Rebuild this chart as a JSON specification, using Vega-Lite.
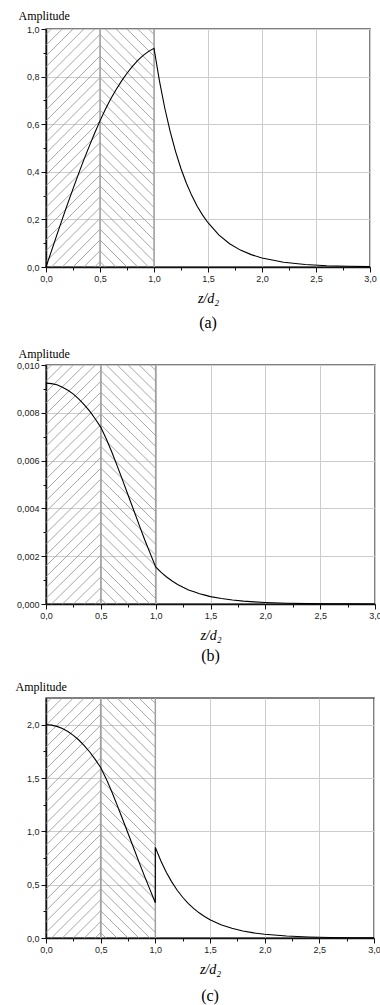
{
  "$schema": "https://vega.github.io/schema/vega-lite/v6.json",
  "padding": {"left": 14, "top": 8, "right": 2, "bottom": 1},
  "spacing": 14,
  "config": {
    "view": {"stroke": "#555555", "strokeWidth": 1.5},
    "axis": {"labelFont": "Liberation Sans", "labelFontSize": 9, "labelColor": "#222222", "domainColor": "#111111", "domainWidth": 1.5, "tickColor": "#111111", "gridColor": "#cccccc", "gridWidth": 1, "titleFont": "Liberation Serif", "titleFontWeight": "normal", "titleColor": "#000000", "labelFlush": false},
    "title": {"font": "Liberation Serif", "fontSize": 16, "fontWeight": "normal", "color": "#000000"}
  },
  "datasets": {
    "hatch": [
      {"z1": 0.45, "v1": 0, "z2": 0.5, "v2": 0.0227},
      {"z1": 0.35, "v1": 0, "z2": 0.5, "v2": 0.0682},
      {"z1": 0.25, "v1": 0, "z2": 0.5, "v2": 0.1136},
      {"z1": 0.15, "v1": 0, "z2": 0.5, "v2": 0.1591},
      {"z1": 0.05, "v1": 0, "z2": 0.5, "v2": 0.2045},
      {"z1": 0, "v1": 0.0227, "z2": 0.5, "v2": 0.25},
      {"z1": 0, "v1": 0.0682, "z2": 0.5, "v2": 0.2955},
      {"z1": 0, "v1": 0.1136, "z2": 0.5, "v2": 0.3409},
      {"z1": 0, "v1": 0.1591, "z2": 0.5, "v2": 0.3864},
      {"z1": 0, "v1": 0.2045, "z2": 0.5, "v2": 0.4318},
      {"z1": 0, "v1": 0.25, "z2": 0.5, "v2": 0.4773},
      {"z1": 0, "v1": 0.2955, "z2": 0.5, "v2": 0.5227},
      {"z1": 0, "v1": 0.3409, "z2": 0.5, "v2": 0.5682},
      {"z1": 0, "v1": 0.3864, "z2": 0.5, "v2": 0.6136},
      {"z1": 0, "v1": 0.4318, "z2": 0.5, "v2": 0.6591},
      {"z1": 0, "v1": 0.4773, "z2": 0.5, "v2": 0.7045},
      {"z1": 0, "v1": 0.5227, "z2": 0.5, "v2": 0.75},
      {"z1": 0, "v1": 0.5682, "z2": 0.5, "v2": 0.7955},
      {"z1": 0, "v1": 0.6136, "z2": 0.5, "v2": 0.8409},
      {"z1": 0, "v1": 0.6591, "z2": 0.5, "v2": 0.8864},
      {"z1": 0, "v1": 0.7045, "z2": 0.5, "v2": 0.9318},
      {"z1": 0, "v1": 0.75, "z2": 0.5, "v2": 0.9773},
      {"z1": 0, "v1": 0.7955, "z2": 0.45, "v2": 1},
      {"z1": 0, "v1": 0.8409, "z2": 0.35, "v2": 1},
      {"z1": 0, "v1": 0.8864, "z2": 0.25, "v2": 1},
      {"z1": 0, "v1": 0.9318, "z2": 0.15, "v2": 1},
      {"z1": 0, "v1": 0.9773, "z2": 0.05, "v2": 1},
      {"z1": 0.55, "v1": 0, "z2": 0.5, "v2": 0.0227},
      {"z1": 0.65, "v1": 0, "z2": 0.5, "v2": 0.0682},
      {"z1": 0.75, "v1": 0, "z2": 0.5, "v2": 0.1136},
      {"z1": 0.85, "v1": 0, "z2": 0.5, "v2": 0.1591},
      {"z1": 0.95, "v1": 0, "z2": 0.5, "v2": 0.2045},
      {"z1": 1, "v1": 0.0227, "z2": 0.5, "v2": 0.25},
      {"z1": 1, "v1": 0.0682, "z2": 0.5, "v2": 0.2955},
      {"z1": 1, "v1": 0.1136, "z2": 0.5, "v2": 0.3409},
      {"z1": 1, "v1": 0.1591, "z2": 0.5, "v2": 0.3864},
      {"z1": 1, "v1": 0.2045, "z2": 0.5, "v2": 0.4318},
      {"z1": 1, "v1": 0.25, "z2": 0.5, "v2": 0.4773},
      {"z1": 1, "v1": 0.2955, "z2": 0.5, "v2": 0.5227},
      {"z1": 1, "v1": 0.3409, "z2": 0.5, "v2": 0.5682},
      {"z1": 1, "v1": 0.3864, "z2": 0.5, "v2": 0.6136},
      {"z1": 1, "v1": 0.4318, "z2": 0.5, "v2": 0.6591},
      {"z1": 1, "v1": 0.4773, "z2": 0.5, "v2": 0.7045},
      {"z1": 1, "v1": 0.5227, "z2": 0.5, "v2": 0.75},
      {"z1": 1, "v1": 0.5682, "z2": 0.5, "v2": 0.7955},
      {"z1": 1, "v1": 0.6136, "z2": 0.5, "v2": 0.8409},
      {"z1": 1, "v1": 0.6591, "z2": 0.5, "v2": 0.8864},
      {"z1": 1, "v1": 0.7045, "z2": 0.5, "v2": 0.9318},
      {"z1": 1, "v1": 0.75, "z2": 0.5, "v2": 0.9773},
      {"z1": 1, "v1": 0.7955, "z2": 0.55, "v2": 1},
      {"z1": 1, "v1": 0.8409, "z2": 0.65, "v2": 1},
      {"z1": 1, "v1": 0.8864, "z2": 0.75, "v2": 1},
      {"z1": 1, "v1": 0.9318, "z2": 0.85, "v2": 1},
      {"z1": 1, "v1": 0.9773, "z2": 0.95, "v2": 1}
    ],
    "bounds": [{"b": 0.5}, {"b": 1.0}],
    "a": [
      {"z": 0, "amp": 0}, {"z": 0.05, "amp": 0.067}, {"z": 0.1, "amp": 0.134}, {"z": 0.15, "amp": 0.2},
      {"z": 0.2, "amp": 0.265}, {"z": 0.25, "amp": 0.328}, {"z": 0.3, "amp": 0.39}, {"z": 0.35, "amp": 0.45},
      {"z": 0.4, "amp": 0.507}, {"z": 0.45, "amp": 0.562}, {"z": 0.5, "amp": 0.614}, {"z": 0.55, "amp": 0.663},
      {"z": 0.6, "amp": 0.707}, {"z": 0.65, "amp": 0.746}, {"z": 0.7, "amp": 0.782}, {"z": 0.75, "amp": 0.814},
      {"z": 0.8, "amp": 0.843}, {"z": 0.85, "amp": 0.868}, {"z": 0.9, "amp": 0.889}, {"z": 0.95, "amp": 0.906},
      {"z": 1.0, "amp": 0.919}, {"z": 1.05, "amp": 0.783}, {"z": 1.1, "amp": 0.667}, {"z": 1.15, "amp": 0.569},
      {"z": 1.2, "amp": 0.485}, {"z": 1.25, "amp": 0.413}, {"z": 1.3, "amp": 0.352}, {"z": 1.35, "amp": 0.3},
      {"z": 1.4, "amp": 0.255}, {"z": 1.45, "amp": 0.218}, {"z": 1.5, "amp": 0.186}, {"z": 1.6, "amp": 0.135},
      {"z": 1.7, "amp": 0.098}, {"z": 1.8, "amp": 0.071}, {"z": 1.9, "amp": 0.052}, {"z": 2.0, "amp": 0.0375},
      {"z": 2.2, "amp": 0.0198}, {"z": 2.4, "amp": 0.0104}, {"z": 2.6, "amp": 0.0055}, {"z": 2.8, "amp": 0.0029},
      {"z": 3.0, "amp": 0.0015}
    ],
    "b": [
      {"z": 0, "amp": 0.00924}, {"z": 0.05, "amp": 0.00922}, {"z": 0.1, "amp": 0.00917}, {"z": 0.15, "amp": 0.00907},
      {"z": 0.2, "amp": 0.00894}, {"z": 0.25, "amp": 0.00878}, {"z": 0.3, "amp": 0.00857}, {"z": 0.35, "amp": 0.00833},
      {"z": 0.4, "amp": 0.00806}, {"z": 0.45, "amp": 0.00774}, {"z": 0.5, "amp": 0.00739}, {"z": 0.55, "amp": 0.0069},
      {"z": 0.6, "amp": 0.00636}, {"z": 0.65, "amp": 0.00577}, {"z": 0.7, "amp": 0.00516}, {"z": 0.75, "amp": 0.00454},
      {"z": 0.8, "amp": 0.00392}, {"z": 0.85, "amp": 0.0033}, {"z": 0.9, "amp": 0.00269}, {"z": 0.95, "amp": 0.00212},
      {"z": 1.0, "amp": 0.00155}, {"z": 1.05, "amp": 0.00132}, {"z": 1.1, "amp": 0.00113}, {"z": 1.15, "amp": 0.00096},
      {"z": 1.2, "amp": 0.00082}, {"z": 1.25, "amp": 0.0007}, {"z": 1.3, "amp": 0.00059}, {"z": 1.35, "amp": 0.00051},
      {"z": 1.4, "amp": 0.00043}, {"z": 1.45, "amp": 0.00037}, {"z": 1.5, "amp": 0.00031}, {"z": 1.6, "amp": 0.000227},
      {"z": 1.7, "amp": 0.000165}, {"z": 1.8, "amp": 0.00012}, {"z": 1.9, "amp": 0.000087}, {"z": 2.0, "amp": 0.000063},
      {"z": 2.2, "amp": 0.000033}, {"z": 2.4, "amp": 0.0000176}, {"z": 2.6, "amp": 0.0000093}, {"z": 2.8, "amp": 0.0000049},
      {"z": 3.0, "amp": 0.0000026}
    ],
    "c": [
      {"z": 0, "amp": 2.0}, {"z": 0.05, "amp": 1.996}, {"z": 0.1, "amp": 1.984}, {"z": 0.15, "amp": 1.964},
      {"z": 0.2, "amp": 1.936}, {"z": 0.25, "amp": 1.9}, {"z": 0.3, "amp": 1.856}, {"z": 0.35, "amp": 1.804},
      {"z": 0.4, "amp": 1.744}, {"z": 0.45, "amp": 1.674}, {"z": 0.5, "amp": 1.598}, {"z": 0.55, "amp": 1.494},
      {"z": 0.6, "amp": 1.376}, {"z": 0.65, "amp": 1.248}, {"z": 0.7, "amp": 1.116}, {"z": 0.75, "amp": 0.982},
      {"z": 0.8, "amp": 0.848}, {"z": 0.85, "amp": 0.714}, {"z": 0.9, "amp": 0.582}, {"z": 0.95, "amp": 0.456},
      {"z": 1.0, "amp": 0.33}, {"z": 1.0, "amp": 0.85}, {"z": 1.05, "amp": 0.724}, {"z": 1.1, "amp": 0.617},
      {"z": 1.15, "amp": 0.526}, {"z": 1.2, "amp": 0.448}, {"z": 1.25, "amp": 0.382}, {"z": 1.3, "amp": 0.325},
      {"z": 1.35, "amp": 0.277}, {"z": 1.4, "amp": 0.236}, {"z": 1.45, "amp": 0.201}, {"z": 1.5, "amp": 0.172},
      {"z": 1.6, "amp": 0.125}, {"z": 1.7, "amp": 0.0906}, {"z": 1.8, "amp": 0.0658}, {"z": 1.9, "amp": 0.0478},
      {"z": 2.0, "amp": 0.0347}, {"z": 2.2, "amp": 0.0183}, {"z": 2.4, "amp": 0.0096}, {"z": 2.6, "amp": 0.0051},
      {"z": 2.8, "amp": 0.0027}, {"z": 3.0, "amp": 0.0014}
    ]
  },
  "vconcat": [
    {
      "width": 324, "height": 238,
      "title": {"text": "(a)", "orient": "bottom", "anchor": "middle", "offset": 10},
      "layer": [
        {"data": {"name": "hatch"}, "mark": {"type": "rule", "color": "#9c9c9c", "strokeWidth": 0.9},
         "encoding": {
           "x": {"field": "z1", "type": "quantitative", "scale": {"domain": [0, 3], "nice": false}, "axis": null},
           "y": {"field": "v1", "type": "quantitative", "scale": {"domain": [0, 1], "nice": false}, "axis": null},
           "x2": {"field": "z2"}, "y2": {"field": "v2"}}},
        {"data": {"name": "bounds"}, "mark": {"type": "rule", "color": "#a0a0a0", "strokeWidth": 1.5},
         "encoding": {"x": {"field": "b", "type": "quantitative", "axis": null}}},
        {"data": {"name": "a"}, "mark": {"type": "line", "color": "#000000", "strokeWidth": 1.1},
         "encoding": {
           "x": {"field": "z", "type": "quantitative", "scale": {"domain": [0, 3], "nice": false},
                 "axis": {"orient": "bottom", "values": [0, 0.5, 1, 1.5, 2, 2.5, 3], "labelExpr": "replace(format(datum.value, '.1f'), '.', ',')", "tickSize": 5, "grid": true, "title": "z/d₂", "titleFontStyle": "italic", "titleFontSize": 14, "titlePadding": 8, "labelPadding": 2}},
           "y": {"field": "amp", "type": "quantitative", "scale": {"domain": [0, 1], "nice": false},
                 "axis": {"orient": "left", "values": [0, 0.2, 0.4, 0.6, 0.8, 1.0], "labelExpr": "replace(format(datum.value, '.1f'), '.', ',')", "tickSize": 5, "grid": true, "title": "Amplitude", "titleAngle": 0, "titleAlign": "left", "titleBaseline": "alphabetic", "titleX": -28, "titleY": -10, "titleFontSize": 12, "labelPadding": 2}},
           "order": {"value": null}}},
        {"data": {"name": "a"}, "mark": {"type": "point", "opacity": 0},
         "encoding": {
           "x": {"field": "z", "type": "quantitative", "scale": {"domain": [0, 3], "nice": false},
                 "axis": {"orient": "bottom", "values": [0.25, 0.75, 1.25, 1.75, 2.25, 2.75], "labels": false, "tickSize": 3, "domain": false, "grid": false, "title": null}},
           "y": {"field": "amp", "type": "quantitative", "scale": {"domain": [0, 1], "nice": false},
                 "axis": {"orient": "left", "values": [0.1, 0.3, 0.5, 0.7, 0.9], "labels": false, "tickSize": 3, "domain": false, "grid": false, "title": null}}}}
      ],
      "resolve": {"scale": {"y": "independent"}, "axis": {"x": "independent", "y": "independent"}}
    },
    {
      "width": 329, "height": 239,
      "title": {"text": "(b)", "orient": "bottom", "anchor": "middle", "offset": 6},
      "layer": [
        {"data": {"name": "hatch"}, "mark": {"type": "rule", "color": "#9c9c9c", "strokeWidth": 0.9},
         "encoding": {
           "x": {"field": "z1", "type": "quantitative", "scale": {"domain": [0, 3], "nice": false}, "axis": null},
           "y": {"field": "v1", "type": "quantitative", "scale": {"domain": [0, 1], "nice": false}, "axis": null},
           "x2": {"field": "z2"}, "y2": {"field": "v2"}}},
        {"data": {"name": "bounds"}, "mark": {"type": "rule", "color": "#a0a0a0", "strokeWidth": 1.5},
         "encoding": {"x": {"field": "b", "type": "quantitative", "axis": null}}},
        {"data": {"name": "b"}, "mark": {"type": "line", "color": "#000000", "strokeWidth": 1.1},
         "encoding": {
           "x": {"field": "z", "type": "quantitative", "scale": {"domain": [0, 3], "nice": false},
                 "axis": {"orient": "bottom", "values": [0, 0.5, 1, 1.5, 2, 2.5, 3], "labelExpr": "replace(format(datum.value, '.1f'), '.', ',')", "tickSize": 5, "grid": true, "title": "z/d₂", "titleFontStyle": "italic", "titleFontSize": 14, "titlePadding": 8, "labelPadding": 2}},
           "y": {"field": "amp", "type": "quantitative", "scale": {"domain": [0, 0.01], "nice": false},
                 "axis": {"orient": "left", "values": [0, 0.002, 0.004, 0.006, 0.008, 0.01], "labelExpr": "replace(format(datum.value, '.3f'), '.', ',')", "tickSize": 5, "grid": true, "title": "Amplitude", "titleAngle": 0, "titleAlign": "left", "titleBaseline": "alphabetic", "titleX": -28, "titleY": -8, "titleFontSize": 12, "labelPadding": 2}},
           "order": {"value": null}}},
        {"data": {"name": "b"}, "mark": {"type": "point", "opacity": 0},
         "encoding": {
           "x": {"field": "z", "type": "quantitative", "scale": {"domain": [0, 3], "nice": false},
                 "axis": {"orient": "bottom", "values": [0.25, 0.75, 1.25, 1.75, 2.25, 2.75], "labels": false, "tickSize": 3, "domain": false, "grid": false, "title": null}},
           "y": {"field": "amp", "type": "quantitative", "scale": {"domain": [0, 0.01], "nice": false},
                 "axis": {"orient": "left", "values": [0.001, 0.003, 0.005, 0.007, 0.009], "labels": false, "tickSize": 3, "domain": false, "grid": false, "title": null}}}}
      ],
      "resolve": {"scale": {"y": "independent"}, "axis": {"x": "independent", "y": "independent"}}
    },
    {
      "width": 328, "height": 240,
      "title": {"text": "(c)", "orient": "bottom", "anchor": "middle", "offset": 12},
      "layer": [
        {"data": {"name": "hatch"}, "mark": {"type": "rule", "color": "#9c9c9c", "strokeWidth": 0.9},
         "encoding": {
           "x": {"field": "z1", "type": "quantitative", "scale": {"domain": [0, 3], "nice": false}, "axis": null},
           "y": {"field": "v1", "type": "quantitative", "scale": {"domain": [0, 1], "nice": false}, "axis": null},
           "x2": {"field": "z2"}, "y2": {"field": "v2"}}},
        {"data": {"name": "bounds"}, "mark": {"type": "rule", "color": "#a0a0a0", "strokeWidth": 1.5},
         "encoding": {"x": {"field": "b", "type": "quantitative", "axis": null}}},
        {"data": {"name": "c"}, "mark": {"type": "line", "color": "#000000", "strokeWidth": 1.1},
         "encoding": {
           "x": {"field": "z", "type": "quantitative", "scale": {"domain": [0, 3], "nice": false},
                 "axis": {"orient": "bottom", "values": [0, 0.5, 1, 1.5, 2, 2.5, 3], "labelExpr": "replace(format(datum.value, '.1f'), '.', ',')", "tickSize": 5, "grid": true, "title": "z/d₂", "titleFontStyle": "italic", "titleFontSize": 14, "titlePadding": 8, "labelPadding": 2}},
           "y": {"field": "amp", "type": "quantitative", "scale": {"domain": [0, 2.25], "nice": false},
                 "axis": {"orient": "left", "values": [0, 0.5, 1, 1.5, 2], "labelExpr": "replace(format(datum.value, '.1f'), '.', ',')", "tickSize": 5, "grid": true, "title": "Amplitude", "titleAngle": 0, "titleAlign": "left", "titleBaseline": "alphabetic", "titleX": -31, "titleY": -8, "titleFontSize": 12, "labelPadding": 2}},
           "order": {"value": null}}},
        {"data": {"name": "c"}, "mark": {"type": "point", "opacity": 0},
         "encoding": {
           "x": {"field": "z", "type": "quantitative", "scale": {"domain": [0, 3], "nice": false},
                 "axis": {"orient": "bottom", "values": [0.25, 0.75, 1.25, 1.75, 2.25, 2.75], "labels": false, "tickSize": 3, "domain": false, "grid": false, "title": null}},
           "y": {"field": "amp", "type": "quantitative", "scale": {"domain": [0, 2.25], "nice": false},
                 "axis": {"orient": "left", "values": [0.25, 0.75, 1.25, 1.75], "labels": false, "tickSize": 3, "domain": false, "grid": false, "title": null}}}}
      ],
      "resolve": {"scale": {"y": "independent"}, "axis": {"x": "independent", "y": "independent"}}
    }
  ]
}
